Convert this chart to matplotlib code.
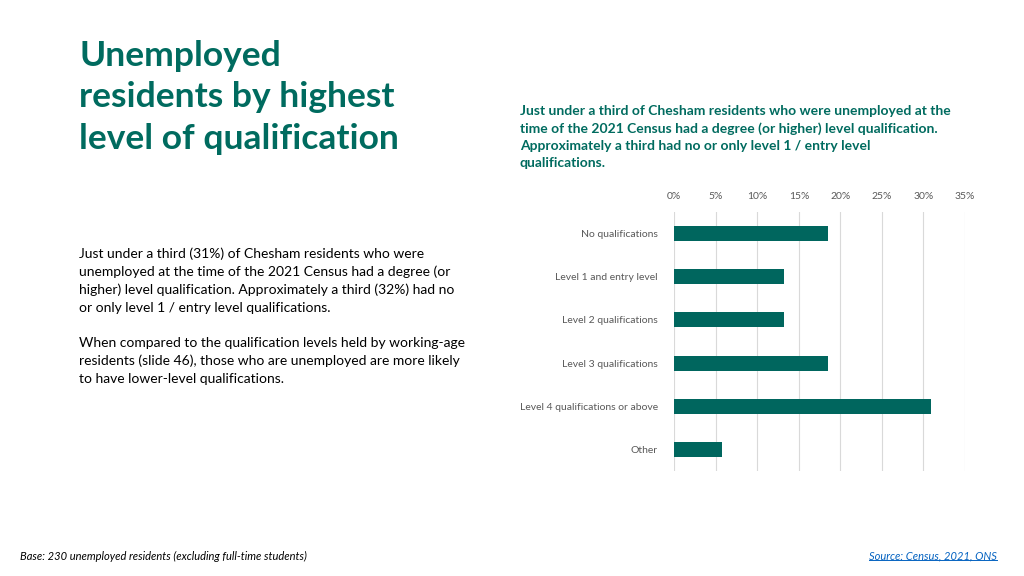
import matplotlib.pyplot as plt
import numpy as np

plt.rcParams['font.family'] = ['Lato', 'DejaVu Sans']

categories = ["No qualifications", "Level 1 and entry level", "Level 2 qualifications",
              "Level 3 qualifications", "Level 4 qualifications or above", "Other"]
values = [18.5, 13.2, 13.2, 18.5, 30.9, 5.7]
xticks = [0, 5, 10, 15, 20, 25, 30, 35]

teal = '#006B5F'
bar_col = '#00665E'
grey = '#595959'

fig = plt.figure(figsize=(10.24, 5.76), dpi=100)

ax = fig.add_axes([674.3 / 1024, 1 - 471 / 576, 290.7 / 1024, 259 / 576])
y_pos = np.arange(len(categories))
ax.barh(y_pos, values, height=0.35, color=bar_col, zorder=3)
ax.set_ylim(len(categories) - 0.5, -0.5)
ax.set_xlim(0, 35)
ax.set_xticks(xticks)
ax.set_xticklabels([f"{t}%" for t in xticks])
ax.xaxis.tick_top()
ax.set_yticks(y_pos)
ax.set_yticklabels(categories)
ax.tick_params(axis='both', length=0, labelsize=7.5, labelcolor=grey)
ax.tick_params(axis='x', pad=8)
ax.tick_params(axis='y', pad=12)
ax.grid(axis='x', color='#d9d9d9', linewidth=0.8, zorder=0)
for s in ax.spines.values():
    s.set_visible(False)

fig.text(79 / 1024, 1 - 40 / 576, "Unemployed\nresidents by highest\nlevel of qualification",
         fontsize=25.5, fontweight='bold', color=teal, va='top', ha='left', linespacing=1.36)

fig.text(520 / 1024, 1 - 105 / 576,
         "Just under a third of Chesham residents who were unemployed at the\n"
         "time of the 2021 Census had a degree (or higher) level qualification.\n"
         "Approximately a third had no or only level 1 / entry level\n"
         "qualifications.",
         fontsize=10, fontweight='bold', color=teal, va='top', ha='left', linespacing=1.5)

fig.text(79 / 1024, 1 - 247 / 576,
         "Just under a third (31%) of Chesham residents who were\n"
         "unemployed at the time of the 2021 Census had a degree (or\n"
         "higher) level qualification. Approximately a third (32%) had no\n"
         "or only level 1 / entry level qualifications.\n\n"
         "When compared to the qualification levels held by working-age\n"
         "residents (slide 46), those who are unemployed are more likely\n"
         "to have lower-level qualifications.",
         fontsize=10, color='black', va='top', ha='left', linespacing=1.55)

fig.text(20 / 1024, 1 - 556 / 576,
         "Base: 230 unemployed residents (excluding full-time students)",
         fontsize=8, style='italic', color='black', va='center', ha='left')
src = fig.text(997 / 1024, 1 - 556 / 576, "Source: Census, 2021, ONS",
               fontsize=8, style='italic', color='#0563C1', va='center', ha='right')
fig.canvas.draw()
bb = src.get_window_extent().transformed(fig.transFigure.inverted())
fig.add_artist(plt.Line2D([bb.x0, bb.x1], [bb.y0 + 0.002, bb.y0 + 0.002],
                          color='#0563C1', linewidth=0.7, transform=fig.transFigure))

fig.savefig("out.png", dpi=100)
